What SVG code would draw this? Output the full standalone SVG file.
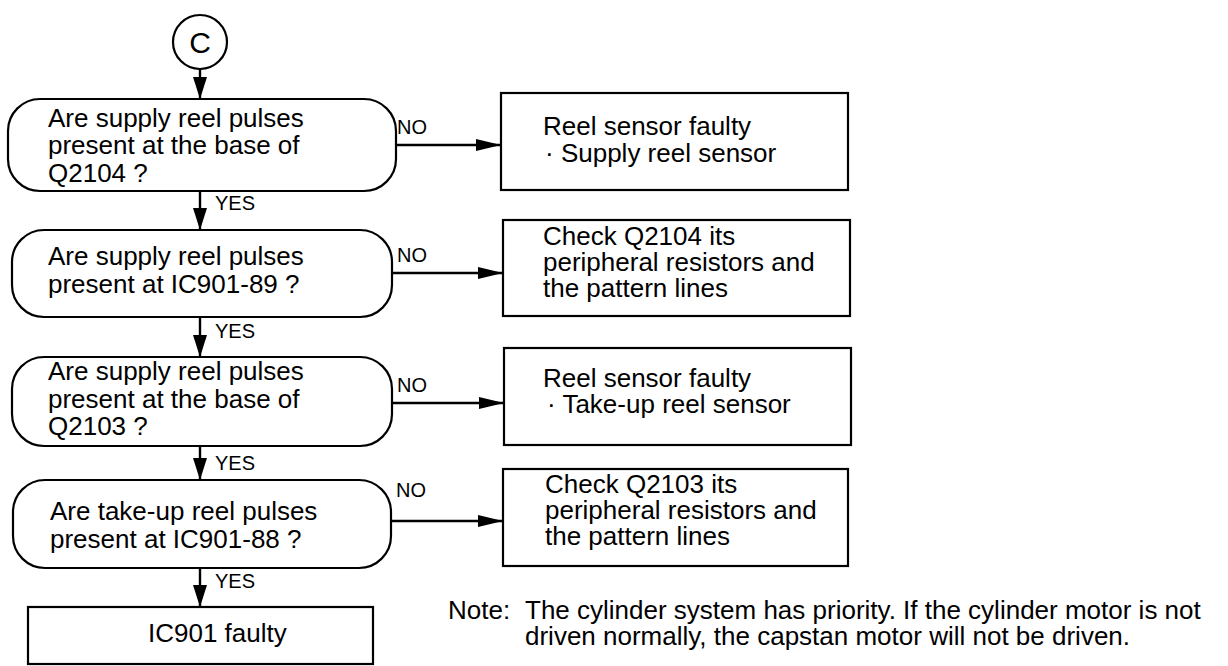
<svg xmlns="http://www.w3.org/2000/svg" width="1228" height="666" viewBox="0 0 1228 666">
<defs>
<style>
.shape{fill:#fff;stroke:#000;stroke-width:2.2}
.line{fill:none;stroke:#000;stroke-width:2.4}
.t{font-family:"Liberation Sans",Arial,Helvetica,sans-serif;font-size:26px;fill:#000}
.lbl{font-family:"Liberation Sans",Arial,Helvetica,sans-serif;font-size:20px;fill:#000}
</style>
<marker id="ah" markerUnits="userSpaceOnUse" markerWidth="26" markerHeight="14" refX="25" refY="6" orient="auto">
<path d="M0,0 L25,6 L0,12 Z" fill="#000"/>
</marker>
<marker id="av" markerUnits="userSpaceOnUse" markerWidth="24" markerHeight="16" refX="22" refY="7" orient="auto">
<path d="M0,0 L22,7 L0,14 Z" fill="#000"/>
</marker>
</defs>
<rect width="1228" height="666" fill="#fff"/>

<g id="connectors">
<line class="line" x1="200" y1="69" x2="200" y2="99" marker-end="url(#av)"/>
<line class="line" x1="200" y1="191" x2="200" y2="230" marker-end="url(#av)"/>
<line class="line" x1="200" y1="317" x2="200" y2="357" marker-end="url(#av)"/>
<line class="line" x1="200" y1="446" x2="200" y2="480" marker-end="url(#av)"/>
<line class="line" x1="200" y1="568" x2="200" y2="607" marker-end="url(#av)"/>
<line class="line" x1="396" y1="145" x2="501" y2="145" marker-end="url(#ah)"/>
<line class="line" x1="392" y1="273" x2="503" y2="273" marker-end="url(#ah)"/>
<line class="line" x1="392" y1="403" x2="504" y2="403" marker-end="url(#ah)"/>
<line class="line" x1="391" y1="521" x2="503" y2="521" marker-end="url(#ah)"/>
<text class="lbl" x="215" y="210">YES</text>
<text class="lbl" x="215" y="338">YES</text>
<text class="lbl" x="215" y="470">YES</text>
<text class="lbl" x="215" y="588">YES</text>
<text class="lbl" x="397" y="134">NO</text>
<text class="lbl" x="397" y="262">NO</text>
<text class="lbl" x="397" y="392">NO</text>
<text class="lbl" x="396" y="497">NO</text>
</g>

<g id="start">
<circle class="shape" cx="200" cy="42" r="27"/>
<text class="t" x="200" y="53" text-anchor="middle" style="font-size:30px">C</text>
</g>

<g id="q1">
<rect class="shape" x="8" y="99" width="388" height="92" rx="32" ry="32"/>
<text class="t" x="48" y="127">Are supply reel pulses</text>
<text class="t" x="48" y="154">present at the base of</text>
<text class="t" x="48" y="182">Q2104 ?</text>
</g>

<g id="q2">
<rect class="shape" x="12" y="230" width="380" height="87" rx="32" ry="32"/>
<text class="t" x="48" y="265">Are supply reel pulses</text>
<text class="t" x="48" y="293">present at IC901-89 ?</text>
</g>

<g id="q3">
<rect class="shape" x="12" y="357" width="380" height="89" rx="32" ry="32"/>
<text class="t" x="48" y="380">Are supply reel pulses</text>
<text class="t" x="48" y="408">present at the base of</text>
<text class="t" x="48" y="435">Q2103 ?</text>
</g>

<g id="q4">
<rect class="shape" x="13" y="480" width="378" height="88" rx="32" ry="32"/>
<text class="t" x="50" y="520">Are take-up reel pulses</text>
<text class="t" x="50" y="548">present at IC901-88 ?</text>
</g>

<g id="r1">
<rect class="shape" x="501" y="93" width="347" height="97"/>
<text class="t" x="543" y="135">Reel sensor faulty</text>
<text class="t" x="545" y="162">· Supply reel sensor</text>
</g>

<g id="r2">
<rect class="shape" x="503" y="220" width="347" height="96"/>
<text class="t" x="543" y="245">Check Q2104 its</text>
<text class="t" x="543" y="271">peripheral resistors and</text>
<text class="t" x="543" y="297">the pattern lines</text>
</g>

<g id="r3">
<rect class="shape" x="504" y="348" width="347" height="97"/>
<text class="t" x="543" y="387">Reel sensor faulty</text>
<text class="t" x="547" y="413">· Take-up reel sensor</text>
</g>

<g id="r4">
<rect class="shape" x="503" y="469" width="345" height="97"/>
<text class="t" x="545" y="493">Check Q2103 its</text>
<text class="t" x="545" y="519">peripheral resistors and</text>
<text class="t" x="545" y="545">the pattern lines</text>
</g>

<g id="end">
<rect class="shape" x="28" y="607" width="345" height="57"/>
<text class="t" x="148" y="642">IC901 faulty</text>
</g>

<g id="note">
<text class="t" x="448" y="619">Note:</text>
<text class="t" x="525" y="619">The cylinder system has priority.  If the cylinder motor is not</text>
<text class="t" x="525" y="645">driven normally, the capstan motor will not be driven.</text>
</g>
</svg>
